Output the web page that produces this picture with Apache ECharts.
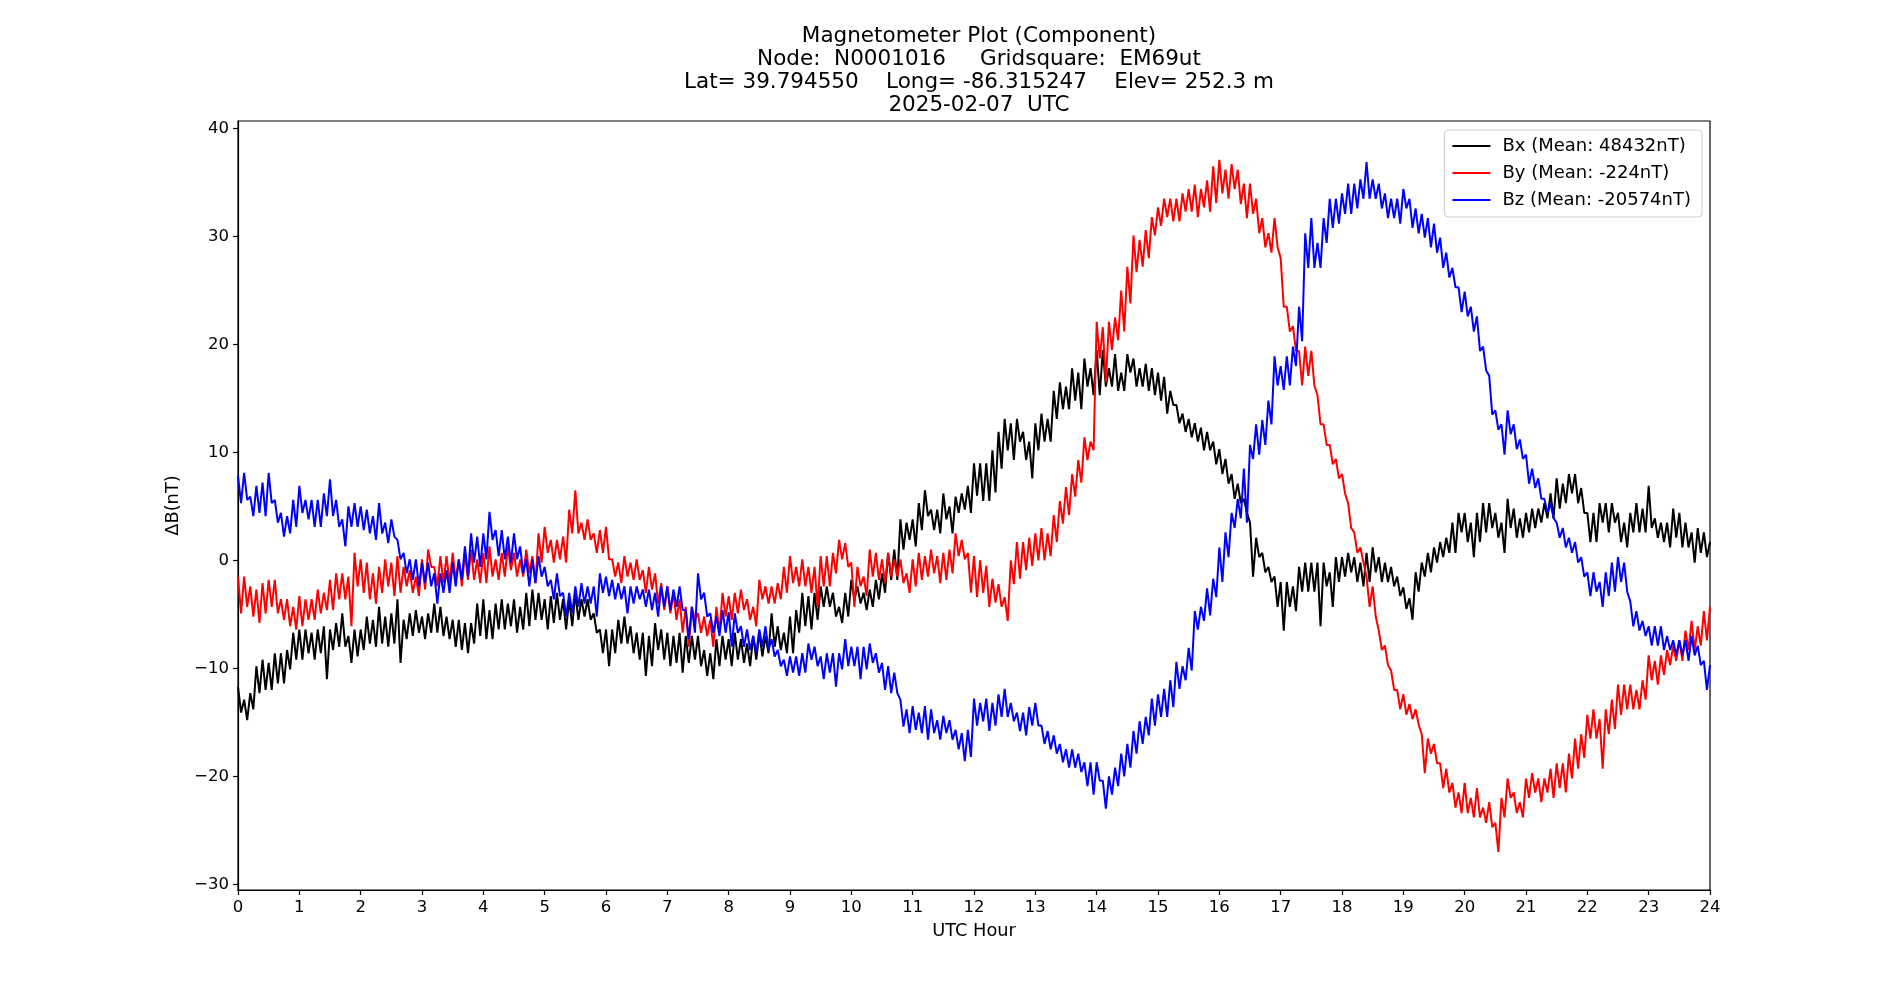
<!DOCTYPE html>
<html>
<head>
<meta charset="utf-8">
<script src="https://cdn.jsdelivr.net/npm/echarts@6/dist/echarts.min.js"></script>
<style>
  html, body { margin: 0; padding: 0; background: #fff; }
  #main { width: 1900px; height: 1000px; }
</style>
</head>
<body>
<div id="main"></div>
<script>
// upper / lower edge of each noisy trace, read every 0.1 h from 0.0 to 24.0
var bxHi = [
  -11.7, -12.9, -12.3, -9.8, -9.2, -9.5, -8.6, -8.6, -8.3, -6.7,
  -6.4, -6.4, -6.7, -6.4, -6.1, -6.4, -5.8, -4.9, -7.0, -6.4,
  -6.4, -5.2, -5.5, -4.3, -5.2, -4.9, -3.6, -5.5, -4.9, -4.6,
  -5.2, -4.9, -4.0, -4.3, -5.2, -5.5, -5.5, -5.8, -5.8, -4.0,
  -3.6, -4.6, -4.0, -3.6, -4.0, -3.6, -4.3, -3.0, -2.7, -3.0,
  -3.6, -3.3, -3.0, -3.6, -3.6, -3.0, -3.6, -3.6, -4.9, -6.4,
  -6.4, -6.4, -5.5, -5.2, -6.1, -6.7, -6.7, -7.0, -5.8, -6.4,
  -6.7, -7.0, -6.7, -7.0, -7.0, -7.0, -8.3, -8.6, -7.3, -7.0,
  -7.3, -6.7, -7.3, -7.7, -7.0, -6.7, -7.0, -4.9, -6.1, -6.7,
  -5.2, -4.6, -3.0, -3.3, -3.0, -2.4, -2.4, -3.0, -4.3, -3.0,
  -1.8, -2.4, -3.0, -2.7, -1.8, -1.2, 0.7, 1.0, 3.8, 3.5,
  3.8, 5.3, 6.5, 4.7, 4.7, 6.2, 5.0, 5.9, 6.2, 6.9,
  9.0, 9.0, 9.0, 10.2, 11.9, 13.1, 12.7, 13.1, 11.9, 11.0,
  12.7, 13.6, 13.1, 15.7, 16.5, 16.1, 17.8, 17.4, 18.7, 17.8,
  19.5, 19.5, 17.8, 19.1, 17.4, 19.1, 18.7, 17.8, 18.2, 17.8,
  17.4, 17.0, 15.7, 14.4, 13.6, 13.1, 12.7, 12.3, 11.9, 11.0,
  10.3, 9.4, 8.0, 7.1, 5.7, 3.5, 2.1, 0.7, -0.6, -1.5,
  -2.0, -2.0, -2.4, -0.6, -0.2, -0.2, -0.2, -0.2, -1.1, 0.3,
  0.3, 0.7, 0.3, -0.2, 0.7, 1.2, 0.3, -0.2, -0.6, -1.5,
  -2.5, -3.5, -1.1, -0.2, 0.7, 1.2, 1.7, 2.1, 3.5, 4.4,
  4.4, 3.5, 4.4, 5.3, 5.3, 4.4, 3.5, 5.7, 4.8, 3.9,
  4.4, 4.8, 4.8, 5.3, 6.2, 7.6, 7.1, 8.0, 8.0, 6.7,
  4.4, 4.4, 5.3, 5.3, 5.3, 4.4, 3.5, 4.4, 5.3, 4.8,
  6.9, 3.9, 3.5, 3.5, 4.8, 4.4, 3.5, 2.6, 3.0, 2.6,
  1.7
];
var bxLo = [
  -14.1, -14.8, -13.8, -12.3, -12.0, -12.0, -11.4, -11.4, -10.1, -9.2,
  -9.2, -8.6, -9.2, -8.6, -11.0, -8.3, -8.0, -8.0, -9.5, -8.9,
  -8.3, -7.7, -8.0, -7.7, -8.0, -7.7, -9.5, -7.3, -7.0, -6.7,
  -7.3, -6.7, -6.7, -7.0, -7.3, -8.0, -8.3, -8.6, -7.7, -7.0,
  -7.3, -7.3, -6.4, -6.4, -6.1, -6.7, -6.4, -6.1, -5.5, -5.5,
  -6.4, -5.8, -5.5, -6.4, -6.1, -5.5, -5.2, -5.5, -6.7, -8.6,
  -9.8, -8.6, -7.7, -7.7, -8.6, -9.2, -10.7, -9.8, -8.3, -9.2,
  -9.8, -9.5, -10.4, -9.5, -9.2, -9.8, -10.7, -11.0, -9.8, -9.2,
  -9.8, -9.2, -9.5, -9.8, -9.2, -8.9, -8.6, -8.0, -8.3, -8.6,
  -8.6, -6.7, -6.1, -6.4, -5.5, -4.3, -4.3, -5.2, -5.8, -5.2,
  -3.6, -4.0, -4.6, -4.3, -3.6, -3.0, -1.8, -1.8, 1.0, 1.9,
  1.3, 2.8, 4.1, 2.8, 2.5, 3.8, 2.5, 4.4, 4.7, 4.4,
  6.0, 5.5, 5.5, 6.3, 8.5, 10.2, 9.3, 11.0, 9.3, 7.6,
  10.2, 11.0, 11.0, 13.1, 14.0, 14.0, 14.8, 14.0, 16.1, 15.3,
  15.3, 16.1, 16.1, 15.7, 15.7, 17.4, 16.1, 16.1, 15.7, 15.3,
  14.8, 13.6, 14.4, 12.7, 11.9, 11.4, 11.0, 10.2, 10.2, 8.9,
  8.0, 7.1, 5.7, 5.3, 4.4, -1.5, 0.3, -1.1, -2.0, -4.3,
  -6.5, -4.3, -4.7, -2.9, -2.9, -2.9, -6.1, -2.4, -4.3, -2.0,
  -1.5, -1.1, -2.0, -2.4, -2.0, -1.1, -2.0, -2.0, -2.4, -3.3,
  -4.5, -5.5, -2.9, -1.5, -1.1, -0.2, 0.3, 0.7, 0.7, 2.6,
  1.7, 0.3, 1.7, 2.6, 3.0, 2.1, 0.7, 3.0, 2.1, 2.1,
  2.6, 3.0, 3.5, 3.9, 3.9, 4.8, 5.3, 6.2, 5.3, 4.4,
  1.7, 1.7, 3.5, 2.6, 3.5, 1.7, 1.2, 2.6, 2.6, 2.6,
  3.0, 2.1, 1.7, 1.2, 2.1, 1.2, 1.2, -0.2, 0.7, 0.3,
  -0.2
];
var byHi = [
  -1.5, -1.5, -2.4, -2.7, -2.1, -1.8, -1.8, -3.6, -3.6, -4.3,
  -3.3, -3.6, -3.6, -2.7, -3.0, -1.8, -1.2, -1.2, -1.5, 0.7,
  0.1, -0.2, -1.2, -0.6, 0.1, -0.2, 0.4, -0.6, -0.9, -1.5,
  0.1, 1.0, -0.6, 0.4, 0.4, 0.7, 0.1, 0.7, 1.0, 0.1,
  0.7, 1.3, 0.1, 0.7, 1.3, 0.7, 0.1, 1.0, 0.4, 2.5,
  3.1, 1.9, 1.9, 2.2, 4.7, 6.5, 3.5, 3.8, 2.5, 2.8,
  3.1, 0.1, -0.2, 0.4, -0.2, 0.1, -0.9, -0.6, -1.2, -2.1,
  -2.4, -3.0, -3.6, -4.3, -4.3, -4.9, -5.2, -5.5, -4.3, -3.0,
  -3.3, -3.0, -2.7, -3.6, -4.3, -1.8, -2.4, -2.4, -2.1, -0.6,
  0.4, -0.6, 0.1, -0.6, -0.6, 0.4, 0.4, 0.7, 1.9, 1.6,
  -0.2, -0.6, -1.5, 1.0, 0.7, 0.1, 0.7, 0.1, 0.1, -1.2,
  0.1, 0.7, 0.4, 1.0, 0.4, 0.7, 1.0, 2.5, 1.9, 0.7,
  0.4, 0.0, -0.5, -1.7, -2.2, -3.4, 0.0, 1.7, 1.7, 2.1,
  2.5, 3.0, 2.5, 4.2, 5.5, 6.8, 8.0, 9.3, 11.4, 11.0,
  22.1, 21.6, 22.1, 22.5, 25.0, 27.2, 30.1, 29.7, 30.6, 31.8,
  32.7, 33.5, 33.5, 33.5, 34.0, 34.4, 34.8, 34.4, 35.2, 36.5,
  37.1, 36.2, 36.7, 36.2, 34.9, 34.9, 33.5, 31.7, 30.3, 31.7,
  28.0, 23.5, 21.7, 19.4, 19.8, 19.4, 15.3, 12.6, 10.7, 9.4,
  8.0, 5.3, 2.6, 1.2, -1.5, -2.4, -6.5, -7.9, -10.2, -12.0,
  -12.4, -13.3, -13.8, -16.1, -16.5, -17.0, -18.8, -19.3, -20.6, -21.5,
  -20.6, -22.0, -21.1, -22.9, -22.4, -24.3, -22.0, -20.2, -21.5, -22.4,
  -20.2, -19.7, -20.2, -20.2, -19.3, -18.8, -18.8, -17.9, -16.5, -16.1,
  -14.3, -13.8, -14.7, -13.8, -12.9, -11.5, -11.5, -11.5, -12.0, -11.1,
  -8.8, -9.3, -8.8, -8.3, -7.9, -7.4, -6.5, -5.6, -6.1, -4.7,
  -4.3
];
var byLo = [
  -4.9, -4.3, -5.2, -5.8, -4.9, -4.3, -4.9, -5.5, -6.1, -6.4,
  -6.1, -5.5, -5.5, -4.9, -4.6, -4.6, -3.6, -3.6, -6.1, -2.4,
  -3.0, -3.6, -4.0, -3.0, -2.4, -3.3, -3.0, -2.4, -3.0, -3.3,
  -2.7, -0.6, -2.4, -2.1, -2.1, -1.8, -2.4, -1.8, -1.8, -2.1,
  -2.1, -1.5, -1.8, -1.5, -0.9, -1.5, -1.5, -1.2, -2.1, -0.2,
  0.7, -0.2, 0.1, -0.2, 2.5, 2.5, 1.9, 1.9, 0.7, 0.7,
  0.1, -1.5, -2.1, -1.5, -1.8, -1.8, -3.0, -2.7, -4.0, -4.6,
  -4.9, -5.5, -6.7, -8.0, -5.5, -6.7, -7.0, -8.0, -6.7, -5.2,
  -5.5, -4.9, -4.6, -5.5, -6.1, -3.6, -4.0, -4.0, -3.6, -3.0,
  -2.1, -2.4, -2.4, -3.0, -4.3, -2.4, -2.4, -1.2, 0.1, -0.6,
  -4.3, -2.4, -3.3, -1.5, -1.8, -2.1, -1.5, -1.5, -2.1, -3.0,
  -2.4, -1.8, -1.5, -1.2, -2.1, -1.8, -1.2, 0.4, 0.1, -3.0,
  -3.4, -3.0, -4.3, -3.9, -4.3, -5.6, -2.2, -1.7, -0.9, -0.5,
  0.0, 0.0, 0.4, 1.7, 3.4, 4.2, 5.9, 7.2, 9.3, 10.2,
  18.7, 16.5, 19.5, 20.4, 21.2, 23.8, 26.7, 27.2, 28.0, 30.1,
  31.0, 31.8, 31.4, 31.4, 32.3, 32.3, 31.8, 32.7, 32.3, 33.1,
  34.0, 33.5, 34.4, 33.0, 31.7, 32.1, 30.3, 29.0, 28.5, 29.0,
  23.5, 21.2, 19.4, 16.2, 17.1, 16.2, 12.6, 10.7, 8.9, 7.6,
  6.2, 3.0, 0.7, -0.2, -4.3, -5.2, -8.3, -9.7, -12.0, -13.8,
  -14.3, -14.7, -15.2, -19.7, -17.9, -18.8, -21.1, -21.5, -22.9, -23.4,
  -23.4, -23.8, -23.8, -24.3, -24.7, -27.0, -23.8, -22.0, -23.4, -23.8,
  -22.0, -21.5, -22.4, -21.5, -22.0, -21.1, -21.5, -20.2, -19.3, -18.3,
  -16.5, -16.5, -19.3, -16.1, -15.6, -14.3, -13.8, -13.8, -13.8, -12.9,
  -11.1, -11.5, -10.6, -9.7, -9.3, -9.3, -8.3, -8.3, -7.9, -7.4,
  -7.0
];
var bzHi = [
  7.8, 8.1, 5.9, 6.9, 7.2, 8.1, 5.6, 4.4, 4.1, 5.6,
  6.9, 5.6, 5.6, 5.6, 6.2, 7.5, 5.6, 3.8, 5.0, 5.3,
  5.0, 4.7, 4.1, 5.3, 3.5, 3.8, 1.9, 0.7, 0.1, 0.1,
  -0.2, -0.2, -1.2, -1.2, -0.9, -0.2, 0.1, 1.3, 2.5, 2.2,
  2.5, 4.5, 2.8, 2.8, 2.2, 2.5, 1.3, 0.1, 0.1, 0.4,
  -0.6, -1.8, -1.2, -3.0, -3.0, -2.4, -2.1, -2.4, -2.4, -1.2,
  -1.5, -1.8, -2.1, -2.4, -2.4, -2.4, -2.7, -2.7, -3.0, -2.4,
  -2.4, -2.7, -2.4, -4.6, -4.3, -1.2, -3.0, -4.9, -5.2, -4.6,
  -4.8, -4.9, -6.1, -6.4, -7.0, -6.4, -6.1, -7.3, -8.3, -9.2,
  -8.9, -8.9, -8.6, -7.7, -8.0, -8.9, -8.6, -8.6, -8.6, -7.3,
  -8.0, -8.0, -8.0, -7.7, -8.6, -9.5, -9.8, -10.4, -12.9, -13.8,
  -13.5, -14.1, -13.5, -13.8, -14.8, -14.4, -14.8, -15.7, -16.0, -15.7,
  -12.8, -13.2, -12.8, -13.2, -12.4, -11.9, -13.2, -14.1, -14.1, -13.6,
  -13.2, -15.3, -15.8, -16.2, -17.0, -17.5, -17.5, -17.9, -18.7, -18.7,
  -18.7, -20.4, -20.0, -19.2, -17.9, -17.0, -15.8, -14.9, -14.5, -12.8,
  -12.4, -11.9, -11.1, -9.4, -9.8, -8.1, -4.7, -4.3, -2.6, -1.7,
  1.2, 2.6, 4.4, 5.7, 8.5, 10.7, 12.6, 13.0, 14.8, 18.9,
  18.0, 18.9, 19.8, 23.5, 30.3, 31.7, 29.4, 31.7, 33.5, 33.5,
  34.0, 34.9, 34.9, 35.3, 36.9, 35.3, 34.9, 34.0, 33.5, 33.5,
  34.4, 33.5, 32.6, 32.1, 31.7, 31.2, 29.9, 28.5, 27.1, 25.3,
  24.9, 23.5, 22.6, 19.8, 17.1, 13.9, 12.6, 13.9, 12.6, 11.2,
  9.8, 8.5, 7.6, 5.7, 5.3, 3.5, 3.0, 2.1, 1.7, 0.3,
  -1.1, -1.1, -2.0, -1.1, -0.2, 0.3, -0.2, -3.8, -4.7, -5.6,
  -6.1, -6.1, -6.1, -7.0, -7.4, -7.4, -7.4, -7.0, -7.9, -9.3,
  -9.7
];
var bzLo = [
  5.3, 5.6, 4.1, 4.4, 4.1, 5.3, 3.5, 2.2, 2.5, 3.1,
  4.4, 3.8, 3.1, 3.1, 4.1, 4.1, 3.1, 1.3, 3.1, 3.1,
  2.8, 2.5, 1.9, 2.5, 1.6, 2.2, 0.1, -1.2, -1.8, -2.4,
  -2.1, -2.4, -4.0, -3.0, -3.0, -2.4, -1.8, -1.5, -0.2, -0.6,
  0.1, 1.9, 0.4, 0.1, -0.2, 0.1, -1.2, -2.4, -2.1, -1.5,
  -2.4, -3.6, -3.3, -5.2, -4.9, -4.3, -4.0, -4.0, -5.2, -3.0,
  -3.3, -3.6, -3.6, -4.9, -4.0, -3.6, -4.3, -4.6, -5.2, -4.3,
  -4.6, -4.3, -4.6, -7.3, -6.7, -3.6, -5.2, -6.7, -7.0, -6.7,
  -8.0, -6.7, -8.0, -8.3, -8.6, -8.0, -8.3, -8.9, -9.8, -10.7,
  -10.4, -10.7, -10.4, -9.2, -9.8, -11.0, -10.4, -11.7, -10.1, -9.8,
  -9.8, -11.0, -10.1, -9.5, -10.4, -12.0, -12.3, -12.3, -15.4, -16.0,
  -15.7, -16.0, -16.6, -16.0, -16.6, -16.0, -16.6, -17.5, -18.6, -18.2,
  -15.3, -14.9, -15.8, -15.3, -14.5, -14.5, -14.9, -15.8, -16.2, -15.3,
  -15.3, -17.0, -17.5, -17.9, -18.7, -19.2, -19.2, -19.6, -20.9, -21.7,
  -20.4, -23.0, -21.7, -20.9, -20.0, -19.2, -17.9, -17.0, -16.2, -15.3,
  -14.5, -14.5, -13.6, -11.9, -11.1, -10.2, -6.4, -5.6, -5.1, -3.4,
  -2.0, 0.3, 3.0, 3.9, 3.5, 9.4, 9.8, 10.7, 12.6, 16.2,
  15.8, 16.2, 18.0, 20.3, 27.1, 27.1, 27.1, 29.4, 30.8, 31.2,
  32.1, 32.1, 32.6, 33.5, 33.5, 33.5, 32.6, 31.7, 31.7, 31.2,
  32.6, 30.8, 30.3, 29.9, 29.0, 28.5, 27.1, 26.2, 25.3, 23.0,
  22.6, 21.2, 19.4, 17.6, 13.5, 12.1, 9.8, 11.7, 10.3, 9.4,
  7.1, 6.7, 5.7, 4.4, 3.9, 2.1, 1.2, 0.7, -0.2, -1.5,
  -3.3, -2.9, -4.3, -3.3, -2.9, -2.0, -2.9, -6.1, -6.5, -7.0,
  -7.9, -7.9, -8.3, -8.3, -8.8, -8.8, -9.3, -8.8, -9.7, -12.0,
  -12.0
];
var yTicks = [-30, -20, -10, 0, 10, 20, 30, 40];
var seriesNames = ['Bx (Mean: 48432nT)', 'By (Mean: -224nT)', 'Bz (Mean: -20574nT)'];
var seriesColors = ['#000000', '#ff0000', '#0000ff'];
var titleText = 'Magnetometer Plot (Component)\nNode:  N0001016     Gridsquare:  EM69ut\n' +
  'Lat= 39.794550    Long= -86.315247    Elev= 252.3 m\n2025-02-07  UTC';

var FONT = 'DejaVu Sans';

// upper edge on the 0.1 h mark, lower edge half way to the next one
function zigzag(hi, lo) {
  var out = [];
  for (var i = 0; i < hi.length; i++) {
    out.push([i / 10, hi[i]]);
    if (i < hi.length - 1) out.push([i / 10 + 0.05, lo[i]]);
  }
  return out;
}
function minusSign(v) {
  return String(v).replace('-', '\u2212');
}

var pairs = [[bxHi, bxLo], [byHi, byLo], [bzHi, bzLo]];
var series = [];
for (var k = 0; k < 3; k++) {
  series.push({
    name: seriesNames[k],
    type: 'line',
    data: zigzag(pairs[k][0], pairs[k][1]),
    symbol: 'none',
    animation: false,
    lineStyle: { color: seriesColors[k], width: 2 },
    itemStyle: { color: seriesColors[k] }
  });
}

var chart = echarts.init(document.getElementById('main'), null, { renderer: 'canvas' });
var option = {
  backgroundColor: '#ffffff',
  animation: false,
  textStyle: { fontFamily: FONT },
  title: {
    text: titleText,
    left: 974,
    textAlign: 'center',
    top: 20,
    textStyle: { fontFamily: FONT, fontSize: 21.5, fontWeight: 'normal', color: '#000', lineHeight: 23 }
  },
  legend: {
    orient: 'vertical',
    right: 198,
    top: 130,
    data: seriesNames,
    icon: 'path://M0,0H38V2H0Z',
    itemWidth: 38,
    itemHeight: 2,
    itemGap: 7,
    padding: [6, 11, 7, 8],
    backgroundColor: 'rgba(255,255,255,0.8)',
    borderColor: '#cccccc',
    borderWidth: 1,
    borderRadius: 4,
    textStyle: { fontFamily: FONT, fontSize: 18, color: '#000', lineHeight: 20, padding: [0, 0, 0, 7] }
  },
  grid: {
    left: 238,
    right: 190,
    top: 121,
    bottom: 110,
    show: true,
    borderColor: '#000',
    borderWidth: 1.2,
    backgroundColor: 'transparent'
  },
  xAxis: {
    type: 'value',
    min: 0,
    max: 24,
    interval: 1,
    name: 'UTC Hour',
    nameLocation: 'middle',
    nameGap: 32,
    nameTextStyle: { fontFamily: FONT, fontSize: 17.8, color: '#000' },
    axisLine: { show: true, onZero: false, lineStyle: { color: '#000', width: 1.2 } },
    axisTick: { show: true, length: 5, lineStyle: { color: '#000', width: 1.2 } },
    axisLabel: { fontFamily: FONT, fontSize: 16.5, color: '#000', margin: 9 },
    splitLine: { show: false }
  },
  yAxis: {
    type: 'value',
    min: -30.53,
    max: 40.7,
    name: '\u0394B(nT)',
    nameLocation: 'middle',
    nameGap: 56,
    nameRotate: 90,
    nameTextStyle: { fontFamily: FONT, fontSize: 17.8, color: '#000' },
    axisLine: { show: true, onZero: false, lineStyle: { color: '#000', width: 1.2 } },
    axisTick: { show: true, length: 5, customValues: yTicks, lineStyle: { color: '#000', width: 1.2 } },
    axisLabel: { fontFamily: FONT, fontSize: 16.5, color: '#000', margin: 9,
      customValues: yTicks, formatter: function (v) { return minusSign(v); } },
    splitLine: { show: false }
  },
  series: series
};
chart.setOption(option);
</script>
</body>
</html>
